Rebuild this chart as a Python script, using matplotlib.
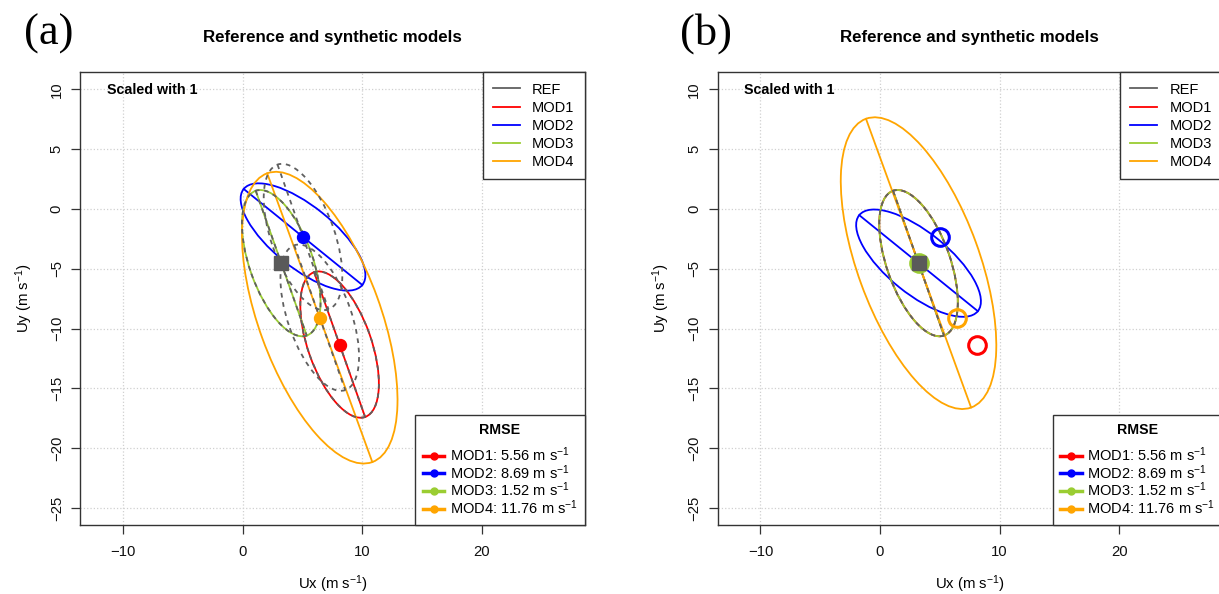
import numpy as np
import matplotlib
matplotlib.use("Agg")
import matplotlib.pyplot as plt
from matplotlib.patches import Ellipse
from matplotlib.lines import Line2D

plt.rcParams['font.family'] = ['Liberation Sans', 'DejaVu Sans']
plt.rcParams['mathtext.fontset'] = 'custom'
plt.rcParams['mathtext.rm'] = 'Liberation Sans'
plt.rcParams['mathtext.it'] = 'Liberation Sans:italic'
plt.rcParams['mathtext.bf'] = 'Liberation Sans:bold'
plt.rcParams['mathtext.default'] = 'regular'

models = ["MOD1", "MOD2", "MOD3", "MOD4"]
colors = ["#ff0000", "#0000ff", "#9acd32", "#ffa500"]
rmse = ["5.56", "8.69", "1.52", "11.76"]

# mean wind vectors (m s-1)
ref_x, ref_y = 3.22, -4.53
mod_x = [8.10, 5.04, 3.22, 6.44]
mod_y = [-11.34, -2.34, -4.53, -9.09]

# variability ellipses: semi-major, semi-minor, orientation (deg)
ref_a, ref_b, ref_ang = 6.42, 2.65, -70.6
mod_a = [6.42, 6.38, 6.42, 12.85]
mod_b = [2.65, 2.58, 2.65, 5.10]
mod_ang = [-70.6, -39.0, -70.6, -70.0]

REF_COL = "#606060"
DASH = (0, (2.6, 2.6))
LW = 1.3


def ellipse(ax, x, y, a, b, ang, color, ls="-", z=2):
    ax.add_patch(Ellipse((x, y), 2 * a, 2 * b, angle=ang, fill=False,
                         ec=color, lw=LW, ls=ls, zorder=z))
    t = np.deg2rad(ang)
    ax.plot([x - a * np.cos(t), x + a * np.cos(t)],
            [y - a * np.sin(t), y + a * np.sin(t)],
            color=color, lw=LW, ls=ls, zorder=z)


def setup(ax):
    ax.set_xlim(-13.57, 28.6)
    ax.set_ylim(-26.4, 11.43)
    ax.set_xticks([-10, 0, 10, 20])
    ax.set_yticks(np.arange(-25, 11, 5))
    ax.grid(True, color='#d0d0d0', ls=':', lw=0.9)
    ax.set_axisbelow(True)
    for s in ax.spines.values():
        s.set_color('#333333')
        s.set_linewidth(1.0)
    ax.tick_params(direction='out', length=6.5, width=0.9, color='#333333',
                   labelsize=10.7, labelcolor='#111111')
    ax.tick_params(axis='x', pad=8.5)
    ax.tick_params(axis='y', pad=5.5, labelrotation=90)
    plt.setp(ax.get_yticklabels(), va='center')
    ax.set_title('Reference and synthetic models', fontweight='bold',
                 fontsize=12.2, pad=22)
    ax.set_xlabel('Ux (m s$^{-1}$)', fontsize=10.7, labelpad=10)
    ax.set_ylabel('Uy (m s$^{-1}$)', fontsize=10.7, labelpad=11)
    ax.text(0.0525, 0.961, 'Scaled with 1', transform=ax.transAxes,
            fontweight='bold', fontsize=10.3, va='center')

    h1 = [Line2D([], [], color=REF_COL, lw=LW)] + \
         [Line2D([], [], color=c, lw=LW) for c in colors]
    leg1 = ax.legend(h1, ["REF"] + models, loc='upper right',
                     bbox_to_anchor=(1, 1), borderaxespad=0, fancybox=False,
                     edgecolor='#333333', framealpha=1, fontsize=10.5,
                     handlelength=1.86, handletextpad=0.83, borderpad=0.7,
                     labelspacing=0.28)
    leg1.get_frame().set_linewidth(1.0)
    ax.add_artist(leg1)

    h2 = [Line2D([], [], color=c, lw=2.5, marker='o', ms=5) for c in colors]
    lab2 = [f"{m}: {r} m s$^{{-1}}$" for m, r in zip(models, rmse)]
    leg2 = ax.legend(h2, lab2, loc='lower right', bbox_to_anchor=(1, 0),
                     borderaxespad=0, fancybox=False, edgecolor='#333333',
                     framealpha=1, fontsize=10.5, handlelength=1.5,
                     handletextpad=0.35, borderpad=0.5, labelspacing=-0.05,
                     title='RMSE',
                     title_fontproperties={'weight': 'bold', 'size': 10.2})
    leg2.get_frame().set_linewidth(1.0)
    # a bit more room between the title and the entries
    leg2._legend_box.sep = 6


fig = plt.figure(figsize=(12.19, 5.94), dpi=100)
ax1 = fig.add_axes([0.0660, 0.1168, 0.4137, 0.7614])
ax2 = fig.add_axes([0.5888, 0.1168, 0.4137, 0.7614])

# (a) model ellipses at the model mean, reference shape shifted onto each model mean
for i in range(len(models)):
    ellipse(ax1, mod_x[i], mod_y[i], mod_a[i], mod_b[i], mod_ang[i], colors[i])
for i in range(len(models)):
    ellipse(ax1, mod_x[i], mod_y[i], ref_a, ref_b, ref_ang, REF_COL, ls=DASH, z=3)
for i in range(len(models)):
    ax1.plot(mod_x[i], mod_y[i], 'o', color=colors[i], ms=8.6, zorder=4)
ax1.plot(ref_x, ref_y, 's', color='#5a5a5a', ms=9.5, zorder=5)

# (b) all ellipses centred on the reference mean
for i in range(len(models)):
    ellipse(ax2, ref_x, ref_y, mod_a[i], mod_b[i], mod_ang[i], colors[i])
ellipse(ax2, ref_x, ref_y, ref_a, ref_b, ref_ang, REF_COL, ls=DASH, z=3)
for i in range(len(models)):
    ax2.plot(mod_x[i], mod_y[i], 'o', mfc='none', mec=colors[i], ms=12.7,
             mew=2.2, zorder=4)
ax2.plot(ref_x, ref_y, 's', color='#5a5a5a', ms=9.5, zorder=5)

setup(ax1)
setup(ax2)

fig.text(24 / 1219, 1 - 45 / 594, '(a)', family='Liberation Serif', fontsize=32)
fig.text(680 / 1219, 1 - 45 / 594, '(b)', family='Liberation Serif', fontsize=32)

fig.savefig('out.png', dpi=100)
